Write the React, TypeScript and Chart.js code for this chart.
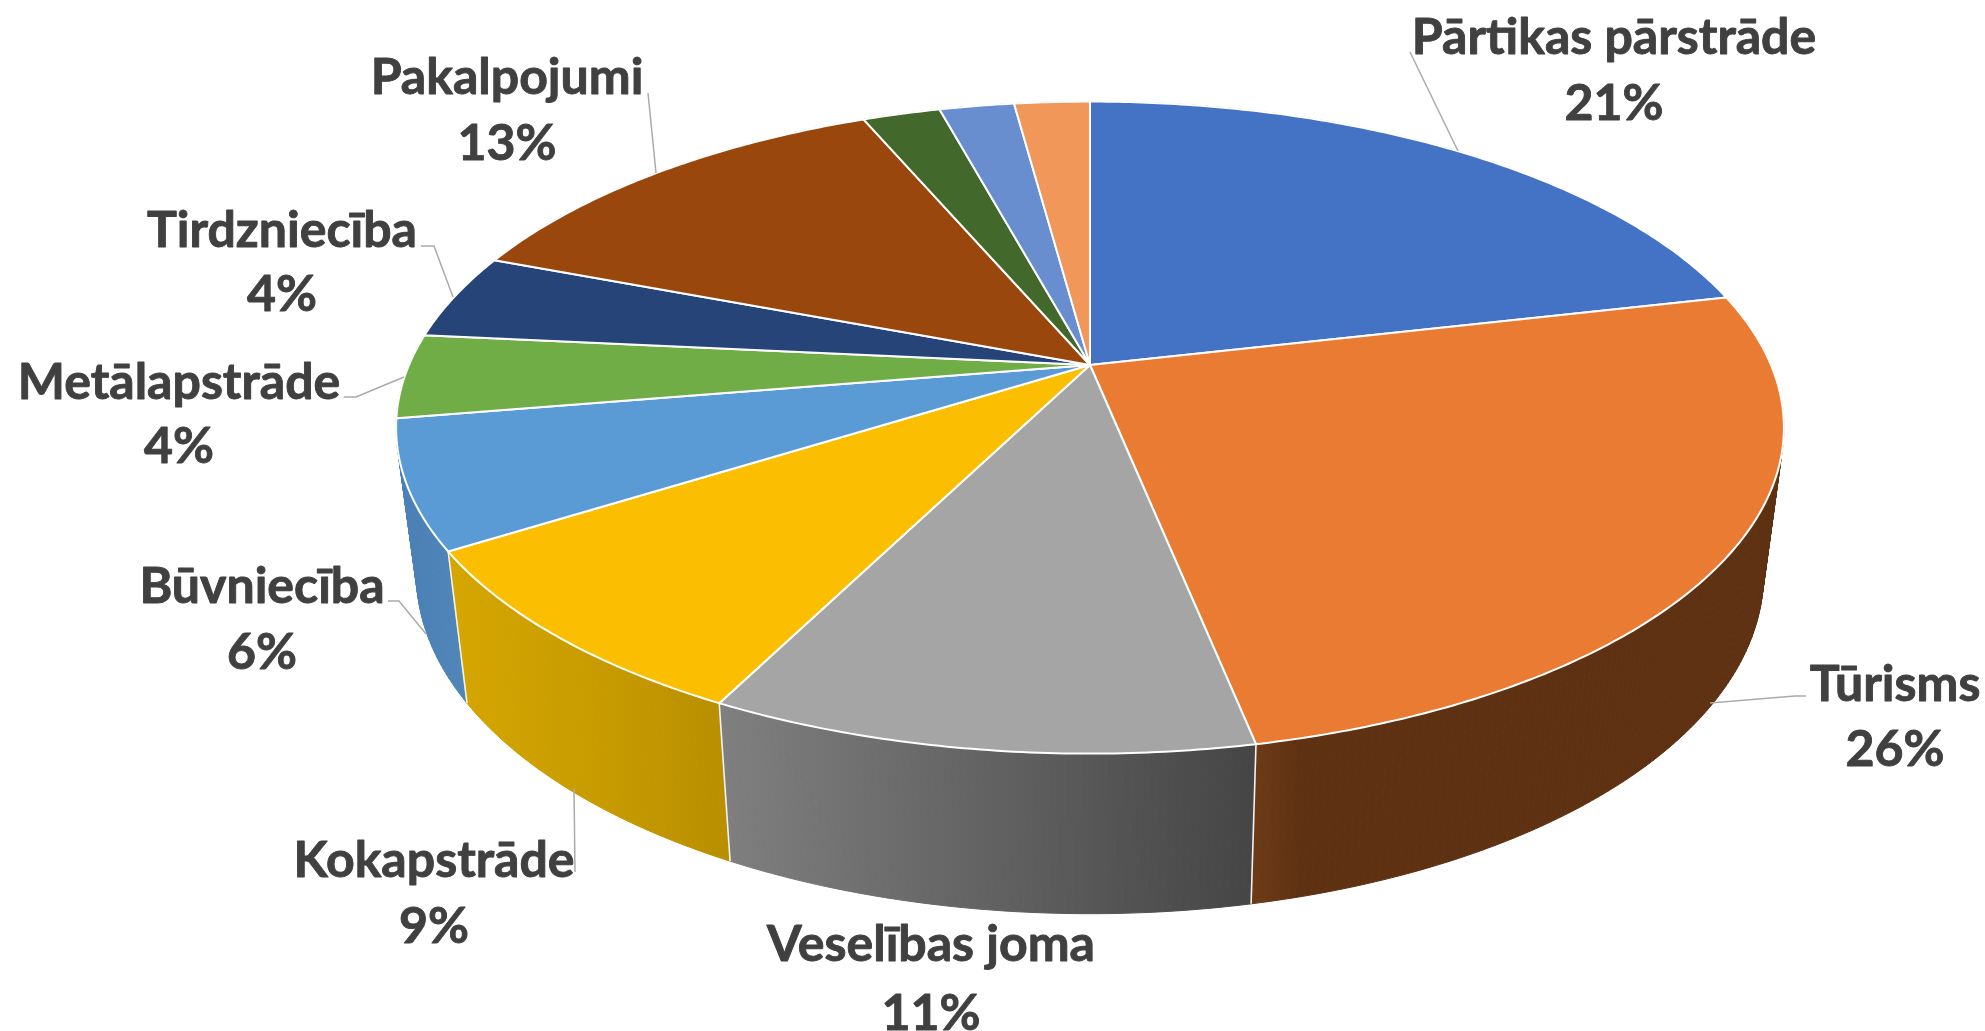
import React, { useEffect, useRef } from "react";
import { Chart, registerables } from "chart.js";

Chart.register(...registerables);

const categories = ["Pārtikas pārstrāde", "Tūrisms", "Veselības joma", "Kokapstrāde", "Būvniecība", "Metālapstrāde", "Tirdzniecība", "Pakalpojumi", "Citi 1", "Citi 2", "Citi 3"];
const values = [21.4, 25.43, 10.62, 8.6, 6.32, 4.17, 4.26, 12.8, 2.18, 2.1, 2.12];
const percentLabels = ["21%", "26%", "11%", "9%", "6%", "4%", "4%", "13%", "", "", ""];
const topColors = ["#4472C4", "#EA7B32", "#A5A5A5", "#FBBE00", "#5B9BD5", "#70AD47", "#264478", "#9A470D", "#43682B", "#698ED0", "#F1975A"];
const sideLeftColors = ["#34589A", "#6C3A16", "#7F7F7F", "#D6A600", "#4A80B6", "#5A8A3A", "#1E3660", "#7E3A0B", "#355322", "#5471A6", "#C07848"];
const sideMidColors = ["#34589A", "#5F3113", "#626262", "#C89C00", "#4C82B6", "#5A8A3A", "#1E3660", "#7E3A0B", "#355322", "#5471A6", "#C07848"];
const sideRightColors = ["#34589A", "#5F3113", "#454545", "#B98E00", "#5086B8", "#5A8A3A", "#1E3660", "#7E3A0B", "#355322", "#5471A6", "#C07848"];

type Plane = { cx: number; y0: number; R: number; k: number; p: number };
const topPlane: Plane = { cx: 1090, y0: 365, R: 681, k: 314, p: 0.192 };
const bottomPlane: Plane = { cx: 1090, y0: 509, R: 661, k: 327, p: 0.192 };

const project = (a: number, pl: Plane): [number, number] => {
  const u = Math.cos(a);
  const v = Math.sin(a);
  const s = 1 / (1 - pl.p * v);
  return [pl.cx + pl.R * u * s, pl.y0 + pl.k * v * s];
};

// [centre x, name baseline, percent baseline]
const labelPlacement: ([number, number, number] | null)[] = [
  [1614, 54, 120],
  [1895, 701, 766],
  [931, 961, 1030],
  [434, 877, 943],
  [262, 603, 669],
  [179, 399, 463],
  [282, 247, 311],
  [507, 94, 160],
  null,
  null,
  null,
];
const leaderLines: number[][][] = [
  [[1410, 52], [1458, 151]],
  [[1806, 696], [1795, 696], [1710, 703]],
  [[574, 788], [575, 872]],
  [[388, 601], [399, 601], [426, 634]],
  [[344, 397], [356, 397], [404, 377]],
  [[421, 246], [434, 246], [453, 297]],
  [[648, 93], [656, 173]],
];

const pie3d = {
  id: "pie3d",
  beforeDatasetsDraw(chart: any) {
    const ctx: CanvasRenderingContext2D = chart.ctx;
    const arcs = chart.getDatasetMeta(0).data;
    const STEP = 0.01;
    ctx.save();
    // side wall, back slices first
    const order = arcs
      .map((arc: any, i: number) => ({ arc, i, front: Math.max(Math.sin(arc.startAngle), Math.sin(arc.endAngle), Math.sin(arc.startAngle) * Math.sin(arc.endAngle) < 0 && arc.endAngle - arc.startAngle > 1 ? 1 : -1) }))
      .sort((p: any, q: any) => p.front - q.front);
    order.forEach(({ arc, i }: any) => {
      const { startAngle, endAngle } = arc;
      const xs: number[] = [];
      for (let a = startAngle; a < endAngle; a += STEP) {
        xs.push(project(a, topPlane)[0], project(a, bottomPlane)[0]);
      }
      const minX = Math.min(...xs);
      const maxX = Math.max(...xs);
      const g = ctx.createLinearGradient(minX, 0, maxX + 1, 0);
      g.addColorStop(0, sideLeftColors[i]);
      g.addColorStop(i === 1 ? 0.08 : 0.5, sideMidColors[i]);
      g.addColorStop(1, sideRightColors[i]);
      ctx.fillStyle = g;
      ctx.strokeStyle = g;
      ctx.lineWidth = 1;
      for (let a = startAngle; a < endAngle; a += STEP) {
        const b = Math.min(a + STEP, endAngle);
        const p1 = project(a, topPlane);
        const p2 = project(b, topPlane);
        const p3 = project(b, bottomPlane);
        const p4 = project(a, bottomPlane);
        ctx.beginPath();
        ctx.moveTo(p1[0], p1[1]);
        ctx.lineTo(p2[0], p2[1]);
        ctx.lineTo(p3[0], p3[1]);
        ctx.lineTo(p4[0], p4[1]);
        ctx.closePath();
        ctx.fill();
        ctx.stroke();
      }
    });
    // wall separators on the front of the pie
    ctx.strokeStyle = "#F2F2F2";
    ctx.lineWidth = 1.6;
    arcs.forEach((arc: any) => {
      if (Math.sin(arc.startAngle) < 0.3) return;
      const p1 = project(arc.startAngle, topPlane);
      const p2 = project(arc.startAngle, bottomPlane);
      ctx.beginPath();
      ctx.moveTo(p1[0], p1[1]);
      ctx.lineTo(p2[0], p2[1]);
      ctx.stroke();
    });
    // top face
    arcs.forEach((arc: any) => {
      const { startAngle, endAngle, options } = arc;
      ctx.beginPath();
      ctx.moveTo(topPlane.cx, topPlane.y0);
      for (let a = startAngle; a < endAngle; a += STEP) {
        const p = project(a, topPlane);
        ctx.lineTo(p[0], p[1]);
      }
      const e = project(endAngle, topPlane);
      ctx.lineTo(e[0], e[1]);
      ctx.closePath();
      ctx.fillStyle = options.backgroundColor;
      ctx.fill();
      ctx.strokeStyle = "#FFFFFF";
      ctx.lineWidth = 2;
      ctx.lineJoin = "round";
      ctx.stroke();
    });
    ctx.restore();
    return false;
  },
  afterDraw(chart: any) {
    const ctx: CanvasRenderingContext2D = chart.ctx;
    ctx.save();
    ctx.strokeStyle = "#ABABAB";
    ctx.lineWidth = 1.5;
    leaderLines.forEach((ln) => {
      ctx.beginPath();
      ln.forEach((p, i) => (i ? ctx.lineTo(p[0], p[1]) : ctx.moveTo(p[0], p[1])));
      ctx.stroke();
    });
    ctx.fillStyle = "#404040";
    ctx.strokeStyle = "#404040";
    ctx.lineWidth = 0.9;
    ctx.lineJoin = "round";
    ctx.textAlign = "center";
    ctx.textBaseline = "alphabetic";
    ctx.font = 'bold 50px Lato, "Open Sans", sans-serif';
    const put = (s: string, x: number, y: number) => {
      ctx.fillText(s, x, y);
      ctx.strokeText(s, x, y);
    };
    labelPlacement.forEach((pl, i) => {
      if (!pl) return;
      put(categories[i], pl[0], pl[1]);
      put(percentLabels[i], pl[0], pl[2]);
    });
    ctx.restore();
  },
};

export default function App() {
  const ref = useRef<HTMLCanvasElement>(null);
  useEffect(() => {
    const chart = new Chart(ref.current!, {
      type: "pie",
      data: {
        labels: categories,
        datasets: [{ data: values, backgroundColor: topColors, borderColor: "#FFFFFF", borderWidth: 2 }],
      },
      options: {
        animation: false,
        responsive: false,
        rotation: 0,
        plugins: { legend: { display: false }, tooltip: { enabled: false } },
      },
      plugins: [pie3d],
    } as any);
    return () => chart.destroy();
  }, []);
  return (
    <canvas
      ref={ref}
      width={1985}
      height={1031}
      style={{ position: "absolute", left: 0, top: 0, display: "block", background: "#FFFFFF" }}
    />
  );
}
